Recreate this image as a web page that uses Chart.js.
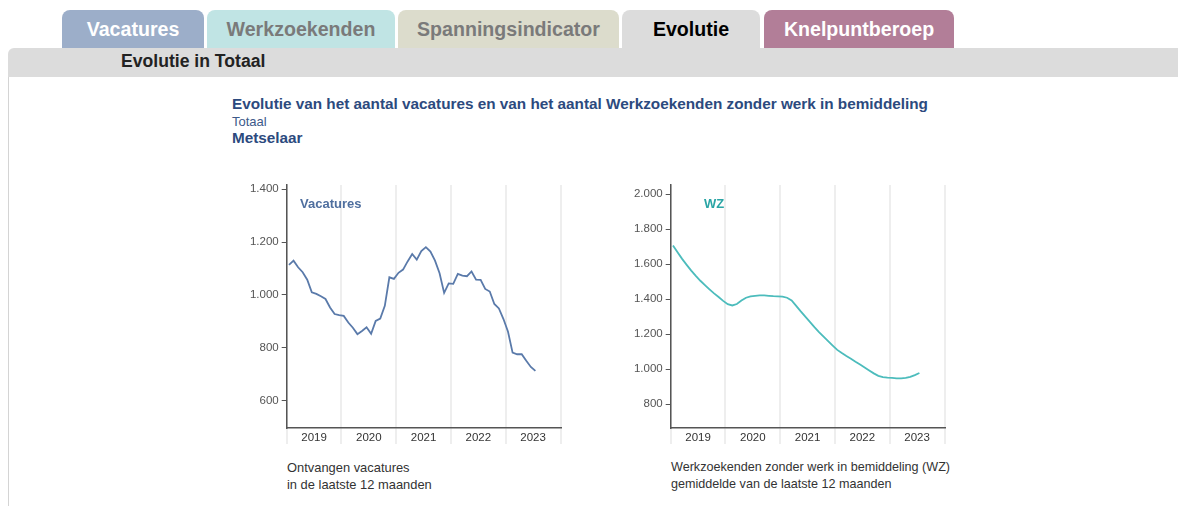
<!DOCTYPE html>
<html>
<head>
<meta charset="utf-8">
<script src="https://cdn.jsdelivr.net/npm/chart.js@4"></script>
<style>
  html, body { margin: 0; padding: 0; background: #fff; }
  body { width: 1178px; height: 506px; position: relative; overflow: hidden; font-family: "Liberation Sans", Arial, sans-serif; }
  .tab { position: absolute; top: 10px; height: 38px; border-radius: 8px 8px 0 0; font-weight: bold; font-size: 19.6px; line-height: 38px; text-align: center; }
  .band { position: absolute; left: 8px; top: 48px; width: 1170px; height: 29px; background: #dcdcdc; border-radius: 6px 0 0 0; }
  .band span { position: absolute; left: 113px; top: 3px; font-weight: bold; font-size: 17.6px; color: #222; }
  .leftline { position: absolute; left: 8px; top: 77px; width: 1px; height: 430px; background: #d4d4d4; }
  .t { position: absolute; white-space: nowrap; }
  .box { position: absolute; }
</style>
</head>
<body>
<div class="tab" style="left:62px;width:142px;background:#9caec9;color:#fff;">Vacatures</div>
<div class="tab" style="left:207px;width:188px;background:#c0e4e4;color:#7a7a7a;">Werkzoekenden</div>
<div class="tab" style="left:398px;width:221px;background:#dcdccc;color:#7a7a7a;">Spanningsindicator</div>
<div class="tab" style="left:622px;width:138px;background:#dcdcdc;color:#000;">Evolutie</div>
<div class="tab" style="left:764px;width:190px;background:#b27e98;color:#fff;">Knelpuntberoep</div>
<div class="band"><span>Evolutie in Totaal</span></div>
<div class="leftline"></div>

<div class="t" style="left:232px;top:95px;font-size:15.3px;font-weight:bold;color:#2c4a7e;">Evolutie van het aantal vacatures en van het aantal Werkzoekenden zonder werk in bemiddeling</div>
<div class="t" style="left:232px;top:114px;font-size:13px;color:#3d5a8a;">Totaal</div>
<div class="t" style="left:232px;top:129px;font-size:15.3px;font-weight:bold;color:#2c4a7e;">Metselaar</div>

<div class="box" style="left:236px;top:175px;width:340px;height:280px;"><canvas id="c1" width="340" height="280"></canvas></div>
<div class="box" style="left:620px;top:175px;width:340px;height:280px;"><canvas id="c2" width="340" height="280"></canvas></div>

<div class="t" style="left:300px;top:196px;font-size:13px;font-weight:bold;color:#4f6f9f;">Vacatures</div>
<div class="t" style="left:704px;top:196px;font-size:13px;font-weight:bold;color:#2aa5a5;">WZ</div>

<div class="t" style="left:287px;top:459px;font-size:12.9px;color:#333;line-height:17px;">Ontvangen vacatures<br>in de laatste 12 maanden</div>
<div class="t" style="left:671px;top:459px;font-size:12.6px;color:#333;line-height:17px;">Werkzoekenden zonder werk in bemiddeling (WZ)<br>gemiddelde van de laatste 12 maanden</div>

<script>
// Years on the x axis (each year = 12 monthly points, Jan 2019 .. Jul 2023)
const years = ['2019', '2020', '2021', '2022', '2023'];

// Ontvangen vacatures in de laatste 12 maanden (monthly, Jan 2019 - Jul 2023)
const vacatures = [
  1114, 1130, 1105, 1086, 1058, 1010, 1004, 995, 985, 953, 928, 924,
  921, 896, 876, 852, 864, 878, 853, 902, 911, 959, 1067, 1061,
  1084, 1096, 1127, 1155, 1134, 1166, 1181, 1164, 1130, 1082, 1008, 1044,
  1042, 1080, 1073, 1071, 1089, 1058, 1057, 1023, 1013, 966, 949, 909,
  861, 782, 776, 776, 751, 728, 713
];

// WZ gemiddelde van de laatste 12 maanden (monthly, Jan 2019 - Jul 2023)
const wz = [
  1707, 1668, 1630, 1596, 1563, 1533, 1505, 1480, 1456, 1433, 1412, 1390,
  1371, 1364, 1372, 1392, 1408, 1416, 1419, 1421, 1421, 1419, 1417, 1416,
  1414, 1408, 1393, 1362, 1330, 1300, 1270, 1240, 1212, 1186, 1160, 1135,
  1110, 1092, 1075, 1060, 1043, 1027, 1010, 993, 976, 962, 955, 952,
  950, 948, 948, 950, 956, 966, 978
];

// Y tick values
const vacTicks = [600, 800, 1000, 1200, 1400];
const wzTicks = [800, 1000, 1200, 1400, 1600, 1800, 2000];

const fmt = v => String(v).replace(/\B(?=(\d{3})+(?!\d))/g, '.');
const FONT = { family: '"Liberation Sans", Arial, sans-serif', size: 11.5 };

function makeChart(id, values, color, ticks, yMin, yMax) {
  const pts = values.map((v, i) => ({ x: i + 0.5, y: v }));
  return new Chart(document.getElementById(id), {
    type: 'line',
    data: { datasets: [{ data: pts, borderColor: color, borderWidth: 1.8, pointRadius: 0, tension: 0, fill: false }] },
    options: {
      responsive: false,
      animation: false,
      events: [],
      layout: { padding: { top: 10, right: 15.5, left: 0, bottom: 0 } },
      plugins: { legend: { display: false }, tooltip: { enabled: false } },
      scales: {
        x: {
          type: 'linear', min: 0, max: 60,
          afterBuildTicks: s => { s.ticks = []; for (let k = 0; k <= 60; k += 6) s.ticks.push({ value: k }); },
          afterFit: s => { s.height = 27; },
          border: { display: true, color: '#555', width: 1.5 },
          grid: {
            drawOnChartArea: true, drawTicks: true, tickLength: 16, lineWidth: 2,
            color: c => (c.tick && c.tick.value % 12 === 0) ? '#eeeeee' : 'rgba(0,0,0,0)'
          },
          ticks: {
            autoSkip: false, maxRotation: 0, padding: -13, color: '#333', font: FONT,
            callback: v => (v % 12 === 6) ? years[(v - 6) / 12] : ''
          }
        },
        y: {
          min: yMin, max: yMax,
          afterBuildTicks: s => { s.ticks = ticks.map(v => ({ value: v })); },
          afterFit: s => { s.width = 50.7; },
          border: { display: true, color: '#555', width: 1.5 },
          grid: { drawOnChartArea: false, drawTicks: true, tickLength: 5, color: '#555' },
          ticks: { padding: 3, color: '#555', font: FONT, callback: v => fmt(v) }
        }
      }
    }
  });
}

makeChart('c1', vacatures, '#5a7aaa', vacTicks, 497, 1416);
makeChart('c2', wz, '#4cbcbc', wzTicks, 664, 2052);
</script>
</body>
</html>
